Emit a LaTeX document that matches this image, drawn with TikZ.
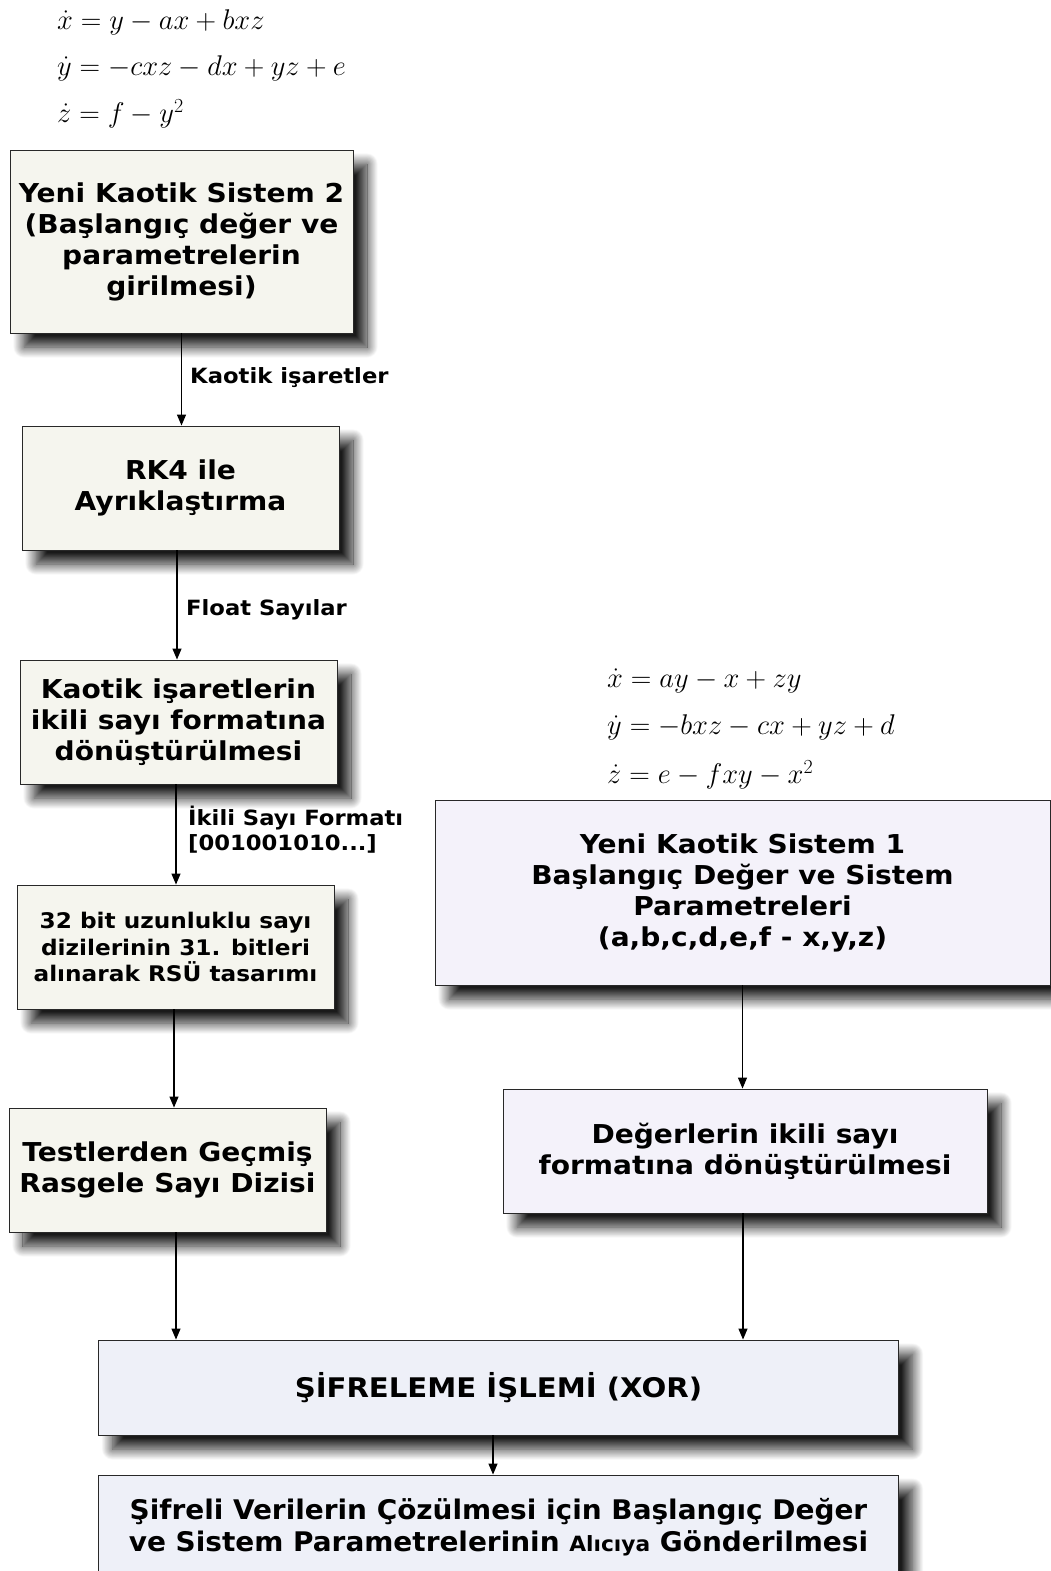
\RequirePackage{fix-cm}
\documentclass[tikz,border=0pt]{standalone}
\usepackage[no-math]{fontspec}
\setmainfont[FakeStretch=1.08]{DejaVu Sans}
\newfontfamily\condfont[FakeStretch=1.15]{DejaVu Sans Condensed}
\usetikzlibrary{arrows.meta,shadows.blur}

\definecolor{beigefill}{RGB}{245,245,238}
\definecolor{lavfill}{RGB}{244,242,250}
\definecolor{bluefill}{RGB}{238,240,248}
\definecolor{edgecol}{RGB}{40,40,40}

\tikzset{
  procbox/.style={draw=edgecol, line width=0.9pt, align=center, inner sep=0pt,
    font=\bfseries\fontsize{26}{31}\selectfont,
    blur shadow={shadow xshift=14pt, shadow yshift=-14pt, shadow blur radius=11pt,
      shadow blur steps=24, shadow opacity=90}},
  leftbox/.style={procbox, fill=beigefill, minimum width=317pt, minimum height=124pt},
  rightbox/.style={procbox, fill=lavfill},
  mainbox/.style={procbox, fill=bluefill, minimum width=800pt},
  flowlabel/.style={anchor=west, inner sep=0pt, align=left, font=\bfseries\fontsize{21}{25}\selectfont},
  eqline/.style={anchor=west, inner sep=0pt, font=\fontsize{28.5}{34}\selectfont},
  flow/.style={-{Triangle[length=11pt,width=9pt]}, line width=1.2pt, draw=black},
}

\begin{document}
\begin{tikzpicture}[x=1pt, y=-1pt]
\useasboundingbox (0,0) rectangle (1051,1571);

% equations of the second chaotic system
\node[eqline] (e2a) at (57,22)  {$\dot{x} = y - ax + bxz$};
\node[eqline] (e2b) at (57,68)  {$\dot{y} = -cxz - dx + yz + e$};
\node[eqline] (e2c) at (57,114) {$\dot{z} = f - y^{2}$};

% equations of the first chaotic system
\node[eqline] (e1a) at (607,681) {$\dot{x} = ay - x + zy$};
\node[eqline] (e1b) at (607,727) {$\dot{y} = -bxz - cx + yz + d$};
\node[eqline] (e1c) at (607,775) {$\dot{z} = e - fxy - x^{2}$};

% left column
\node[leftbox, minimum width=343pt, minimum height=183pt] (sys2) at (181.5,241.5)
  {Yeni Kaotik Sistem 2\\(Başlangıç değer ve\\parametrelerin\\girilmesi)};
\node[leftbox] (rk4) at (180.5,488) {RK4 ile\\Ayrıklaştırma};
\node[leftbox] (bin) at (178.5,722) {Kaotik işaretlerin\\ikili sayı formatına\\dönüştürülmesi};
\node[leftbox, font=\bfseries\fontsize{21.5}{26.5}\selectfont] (rsu) at (175.5,947)
  {32 bit uzunluklu sayı\\dizilerinin 31. bitleri\\alınarak RSÜ tasarımı};
\node[leftbox] (test) at (167.5,1170) {Testlerden Geçmiş\\Rasgele Sayı Dizisi};

% right column
\node[rightbox, minimum width=615pt, minimum height=185pt] (sys1) at (742.5,892.5)
  {Yeni Kaotik Sistem 1\\Başlangıç Değer ve Sistem\\Parametreleri\\(a,b,c,d,e,f - x,y,z)};
\node[rightbox, minimum width=484pt, minimum height=124pt] (conv) at (745,1151)
  {Değerlerin ikili sayı\\formatına dönüştürülmesi};

% bottom row
\node[mainbox, minimum height=95pt, font=\bfseries\fontsize{27}{32}\selectfont] (xor) at (498.5,1387.5)
  {ŞİFRELEME İŞLEMİ (XOR)};
\node[mainbox, minimum height=104pt, font=\condfont\bfseries\fontsize{27}{32}\selectfont] (send) at (498.5,1527)
  {Şifreli Verilerin Çözülmesi için Başlangıç Değer\\ve Sistem Parametrelerinin {\fontsize{21}{32}\selectfont Alıcıya} Gönderilmesi};

% connectors
\draw[flow] (sys2.south) -- (sys2.south |- rk4.north);
\draw[flow] ([xshift=-3.5pt]rk4.south) -- ([xshift=-3.5pt]rk4.south |- bin.north);
\draw[flow] ([xshift=-2.5pt]bin.south) -- ([xshift=-2.5pt]bin.south |- rsu.north);
\draw[flow] ([xshift=-1.5pt]rsu.south) -- ([xshift=-1.5pt]rsu.south |- test.north);
\draw[flow] ([xshift=8.5pt]test.south) -- ([xshift=8.5pt]test.south |- xor.north);
\draw[flow] (sys1.south) -- (sys1.south |- conv.north);
\draw[flow] ([xshift=-2pt]conv.south) -- ([xshift=-2pt]conv.south |- xor.north);
\draw[flow] ([xshift=-5.5pt]xor.south) -- ([xshift=-5.5pt]xor.south |- send.north);

% connector labels
\node[flowlabel] (l1) at (190,378) {Kaotik işaretler};
\node[flowlabel] (l2) at (186,610) {Float Sayılar};
\node[flowlabel] (l3) at (188,830) {İkili Sayı Formatı\\{[}001001010...{]}};
\end{tikzpicture}
\end{document}
